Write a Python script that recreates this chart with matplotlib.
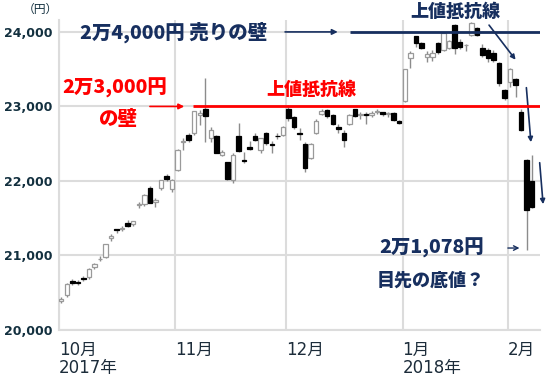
import matplotlib.pyplot as plt
import numpy as np

plt.rcParams['font.family'] = ['DejaVu Sans', 'Noto Sans CJK JP']

# Nikkei 225 daily candles, 2017-10-02 .. 2018-02-07
months = ['10月\n2017年', '11月', '12月', '1月\n2018年', '2月']
month_start = [0, 21, 41, 62, 81]   # index of first trading day in each month

opens = [20390, 20470, 20660, 20650, 20700, 20710, 20840, 20950, 20975, 21240,
         21350, 21360, 21430, 21420, 21680, 21690, 21900, 21720, 21900, 22070,
         21890,
         22150, 22520, 22620, 22640, 22880, 22970, 22580, 22600, 22350, 22250,
         22010, 22600, 22280, 22460, 22610, 22420, 22650, 22490, 22600, 22620,
         22960, 22860, 22650, 22500, 22310, 22650, 22900, 22950, 22880, 22720,
         22650, 22770, 22960, 22880, 22900, 22890, 22930, 22920, 22900, 22910,
         22810,
         23073, 23650, 23948, 23850, 23660, 23660, 23850, 23760, 23790, 24090,
         23860, 23820, 23960, 24050, 23790, 23760, 23720, 23580, 23220,
         23330, 23370, 22930, 22280, 22000]
highs = [20440, 20630, 20690, 20670, 20720, 20830, 20900, 20990, 21160, 21290,
         21360, 21400, 21470, 21460, 21720, 21830, 21930, 21770, 22010, 22090,
         22020,
         22430, 22570, 22640, 22940, 22950, 23382, 22720, 22620, 22420, 22260,
         22380, 22780, 22390, 22540, 22640, 22580, 22660, 22530, 22640, 22740,
         23020, 22870, 22710, 22520, 22510, 22830, 22960, 22960, 22900, 22760,
         22690, 22900, 22970, 22920, 22930, 22940, 22960, 22930, 22930, 22930,
         22820,
         23506, 23740, 23952, 23870, 23740, 23760, 23870, 24000, 23890, 24100,
         23900, 23840, 24130, 24070, 23840, 23790, 23760, 23590, 23230,
         23510, 23380, 22960, 22300, 22353]
lows = [20360, 20440, 20610, 20610, 20660, 20690, 20820, 20920, 20960, 21200,
        21300, 21330, 21380, 21400, 21640, 21660, 21700, 21650, 21880, 22000,
        21850,
        22140, 22420, 22520, 22620, 22750, 22520, 22520, 22380, 22330, 22010,
        21972, 22390, 22240, 22420, 22530, 22380, 22480, 22380, 22560, 22600,
        22800, 22700, 22550, 22120, 22290, 22630, 22880, 22850, 22750, 22640,
        22460, 22750, 22860, 22830, 22760, 22860, 22900, 22870, 22860, 22800,
        22760,
        23065, 23520, 23800, 23770, 23600, 23610, 23700, 23740, 23770, 23700,
        23770, 23750, 23950, 23940, 23660, 23600, 23600, 23280, 23090,
        23260, 23130, 22670, 21078, 21640]
closes = [20410, 20614, 20627, 20629, 20691, 20824, 20881, 20955, 21155, 21256,
          21336, 21363, 21400, 21458, 21697, 21805, 21708, 21740, 22008, 22030,
          22012,
          22420, 22539, 22548, 22937, 22914, 22869, 22681, 22381, 22390, 22028,
          22351, 22397, 22262, 22430, 22550, 22570, 22510, 22486, 22597, 22725,
          22840, 22720, 22630, 22177, 22498, 22811, 22939, 22866, 22770, 22700,
          22553, 22890, 22875, 22900, 22890, 22910, 22945, 22895, 22915, 22820,
          22780,
          23506, 23714, 23850, 23788, 23710, 23720, 23730, 23990, 23880, 23790,
          23800, 23830, 24124, 23960, 23690, 23650, 23620, 23310, 23110,
          23500, 23290, 22682, 21610, 21645]

y_ticks = [20000, 21000, 22000, 23000, 24000]
wall_23000 = 23000
wall_24000 = 24000

navy = '#172f5f'
red = '#ff0000'
jp = ['Noto Sans CJK JP']
heavy = 'heavy'

fig = plt.figure(figsize=(5.46, 3.77), dpi=100)
ax = fig.add_axes([59 / 546, 1 - 330 / 377, 481 / 546, 310 / 377])

x = np.arange(len(closes))
o = np.array(opens)
c = np.array(closes)
up = c >= o

# candles
ax.vlines(x, lows, highs, color='#8c8c8c', lw=1, zorder=2)
ax.bar(x[up], (c - o)[up], bottom=o[up], width=0.8,
       facecolor='white', edgecolor='#9a9a9a', lw=0.9, zorder=3)
ax.bar(x[~up], (o - c)[~up], bottom=c[~up], width=0.8,
       facecolor='black', edgecolor='black', lw=0.9, zorder=3)

ax.set_xlim(-0.4, 86.4)
ax.set_ylim(20000, 24160)

grid_x = [m - 0.4 for m in month_start]
ax.set_xticks(grid_x, months, ha='left', fontsize=12, color='#1c2c3a',
              linespacing=1.0)
ax.set_yticks(y_ticks, [f'{v:,}' for v in y_ticks], fontsize=9,
              fontweight='bold', color='#13303f')
ax.tick_params(length=0, pad=5)
ax.tick_params(axis='x', pad=8)
ax.grid(True, color='#dcdcdc', lw=1.5)
ax.set_axisbelow(True)
for s in ['top', 'right']:
    ax.spines[s].set_visible(False)
for s in ['left', 'bottom']:
    ax.spines[s].set_color('#dcdcdc')
    ax.spines[s].set_linewidth(1.5)

fig.text(40 / 546, 1 - 9 / 377, '（円）', ha='center', va='center',
         fontsize=8.5, color='#13303f', family=jp)

# 24,000 wall
ax.text(3.4, wall_24000, '2万4,000円 売りの壁', ha='left', va='center',
        color=navy, fontsize=14, fontweight=heavy, family=jp, zorder=5)
ax.annotate('', xy=(50.4, wall_24000), xytext=(39.9, wall_24000),
            arrowprops=dict(arrowstyle='-|>', color=navy, lw=1.2,
                            mutation_scale=8))
ax.hlines(wall_24000, 52.2, 86.4, color=navy, lw=2, zorder=4)

# 23,000 wall
ax.text(9.7, 23248, '2万3,000円', ha='center', va='center', color=red,
        fontsize=14, fontweight=heavy, family=jp)
ax.text(10.2, 22819, 'の壁', ha='center', va='center', color=red,
        fontsize=14, fontweight=heavy, family=jp)
ax.annotate('', xy=(22.7, wall_23000), xytext=(15.5, wall_23000),
            arrowprops=dict(arrowstyle='-|>', color=red, lw=1.2,
                            mutation_scale=8))
ax.hlines(wall_23000, 23.8, 86.4, color=red, lw=2, zorder=4)
ax.text(45.1, 23221, '上値抵抗線', ha='center', va='center', color=red,
        fontsize=13, fontweight=heavy, family=jp)

# upper resistance trend
ax.text(71.1, 24268, '上値抵抗線', ha='center', va='center', color=navy,
        fontsize=13, fontweight=heavy, family=jp, clip_on=False)
for (x0, y0), (x1, y1) in [((76.9, 24121), (82.3, 23597)),
                           ((83.9, 23289), (84.8, 22483)),
                           ((86.3, 22282), (87.0, 21651))]:
    ax.annotate('', xy=(x1, y1), xytext=(x0, y0), annotation_clip=False,
                arrowprops=dict(arrowstyle='-|>', color=navy, lw=1.2,
                                mutation_scale=7))

# bottom
ax.text(66.8, 21101, '2万1,078円', ha='center', va='center', color=navy,
        fontsize=14, fontweight=heavy, family=jp)
ax.text(66.7, 20671, '目先の底値？', ha='center', va='center', color=navy,
        fontsize=13, fontweight=heavy, family=jp)
ax.annotate('', xy=(83.2, 21100), xytext=(80.1, 21100),
            arrowprops=dict(arrowstyle='->', color=navy, lw=1,
                            mutation_scale=8))

fig.savefig('out.png', dpi=100)
